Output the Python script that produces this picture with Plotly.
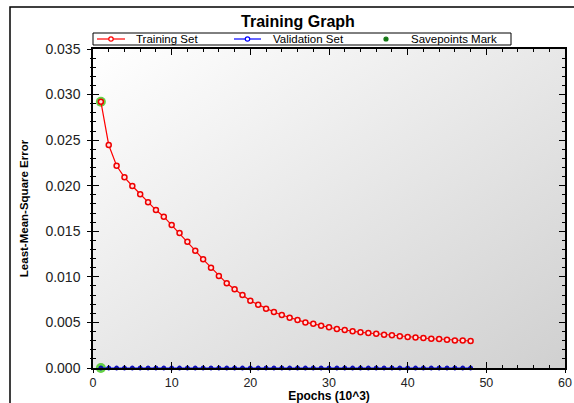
import base64
import plotly.graph_objects as go

epochs = list(range(1, 49))
training = [0.02922, 0.02447, 0.02219, 0.02092, 0.01997, 0.01906, 0.01818, 0.01733,
            0.01660, 0.01569, 0.01481, 0.01386, 0.01287, 0.01192, 0.01101, 0.01009,
            0.00929, 0.00863, 0.00801, 0.00738, 0.00695, 0.00651, 0.00614, 0.00581,
            0.00552, 0.00527, 0.00500, 0.00485, 0.00464, 0.00446, 0.00428, 0.00417,
            0.00402, 0.00391, 0.00384, 0.00376, 0.00365, 0.00358, 0.00347, 0.00340,
            0.00336, 0.00329, 0.00321, 0.00318, 0.00311, 0.00303, 0.00303, 0.00296]
validation = [0.0] * 48
save_x = [1, 1]
save_y = [0.02922, 0.0]

x_ticks = [0, 10, 20, 30, 40, 50, 60]
y_ticks = [0.000, 0.005, 0.010, 0.015, 0.020, 0.025, 0.030, 0.035]

series_names = ["Training Set", "Validation Set", "Savepoints Mark"]
series_colors = ["#ff0000", "#0000ff", "#117711"]

FONT = "Liberation Sans, Arial, sans-serif"
NARROW = "Liberation Sans Narrow, Liberation Sans, Arial, sans-serif"

W, H = 574, 403
L, R, T, B = 93, 9, 49, 35
PW, PH = W - L - R, H - T - B


def px(xp):
    return (xp - L) / PW


def py(yp):
    return (H - B - yp) / PH


svg = ('<svg xmlns="http://www.w3.org/2000/svg" width="100" height="100" preserveAspectRatio="none">'
       '<defs><linearGradient id="g" x1="0" y1="0" x2="1" y2="1">'
       '<stop offset="0" stop-color="#ffffff"/><stop offset="1" stop-color="#d0d0d0"/>'
       '</linearGradient></defs><rect width="100" height="100" fill="url(#g)"/></svg>')
bg = "data:image/svg+xml;base64," + base64.b64encode(svg.encode()).decode()

fig = go.Figure()
fig.add_trace(go.Scatter(
    x=save_x, y=save_y, mode="markers", name=series_names[2],
    marker=dict(color="#55cc33", size=10, opacity=0.9, line=dict(width=0)),
    cliponaxis=False, showlegend=False))
fig.add_trace(go.Scatter(
    x=epochs, y=training, mode="lines+markers", name=series_names[0],
    line=dict(color=series_colors[0], width=1.2),
    marker=dict(symbol="circle", size=5, color="#ffe0e0",
                line=dict(color="#ee0000", width=1.5)),
    showlegend=False))
fig.add_trace(go.Scatter(
    x=epochs, y=validation, mode="lines+markers", name=series_names[1],
    line=dict(color=series_colors[1], width=1.2),
    marker=dict(symbol="circle", size=4, color="#1a1a80",
                line=dict(color="#0000cc", width=1)),
    cliponaxis=False, showlegend=False))
fig.add_trace(go.Scatter(x=[None], y=[None], xaxis="x2", yaxis="y2", showlegend=False,
                         hoverinfo="skip"))

axis_common = dict(showline=True, linecolor="black", linewidth=1.5, mirror="ticks",
                   ticks="inside", ticklen=6, tickcolor="black", tickwidth=1,
                   showgrid=False, zeroline=False)

# manual compact legend (box, sample lines, symbols, labels)
leg_y = py(39)
shapes = [
    dict(type="rect", xref="paper", yref="paper",
         x0=-83 / PW, x1=1.2, y0=-0.5, y1=py(7),
         line=dict(color="black", width=1.5), layer="below"),
    dict(type="rect", xref="paper", yref="paper",
         x0=px(93), x1=px(511), y0=py(45), y1=py(33),
         line=dict(color="black", width=1), fillcolor="white", layer="below"),
    dict(type="line", xref="paper", yref="paper", x0=px(97), x1=px(125), y0=leg_y, y1=leg_y,
         line=dict(color=series_colors[0], width=1.2)),
    dict(type="line", xref="paper", yref="paper", x0=px(234), x1=px(261), y0=leg_y, y1=leg_y,
         line=dict(color=series_colors[1], width=1.2)),
]
for cx, fill, edge, r in [(111, "white", series_colors[0], 2.2),
                          (247.5, "white", series_colors[1], 2.2),
                          (386, series_colors[2], series_colors[2], 2.0)]:
    shapes.append(dict(type="circle", xref="paper", yref="paper",
                       xsizemode="pixel", ysizemode="pixel",
                       xanchor=px(cx), yanchor=leg_y, x0=-r, x1=r, y0=-r, y1=r,
                       fillcolor=fill, line=dict(color=edge, width=1.2)))

annotations = []
for tx, name in zip([135, 272, 410], series_names):
    annotations.append(dict(xref="paper", yref="paper", x=px(tx), y=leg_y,
                            xanchor="left", yanchor="middle", showarrow=False,
                            borderpad=0, text=name,
                            font=dict(family=FONT, size=11.5, color="black")))

fig.update_layout(
    width=W, height=H,
    margin=dict(l=L, r=R, t=T, b=B, autoexpand=False),
    paper_bgcolor="white", plot_bgcolor="rgba(0,0,0,0)",
    title=dict(text="<b>Training Graph</b>", x=298 / W, xanchor="center",
               y=1 - 21 / H, yanchor="middle",
               font=dict(family=FONT, size=16, color="black")),
    showlegend=False,
    xaxis=dict(range=[0, 60], tickvals=x_ticks, ticktext=[str(v) for v in x_ticks],
               minor=dict(dtick=2, ticks="inside", ticklen=3, tickcolor="black"),
               tickfont=dict(family=FONT, size=12.5, color="#222"), ticklabelstandoff=2,
               title=dict(text="<b>Epochs (10^3)</b>", standoff=2,
                          font=dict(family=FONT, size=12, color="black")),
               **axis_common),
    yaxis=dict(range=[0, 0.035], tickvals=y_ticks, ticktext=[f"{v:.3f}" for v in y_ticks],
               minor=dict(dtick=0.001, ticks="inside", ticklen=3, tickcolor="black"),
               tickfont=dict(family=FONT, size=14, color="#222"), ticklabelstandoff=8,
               title=dict(text="<b>Least-Mean-Square Error</b>", standoff=14,
                          font=dict(family=NARROW, size=11.5, color="black")),
               **axis_common),
    xaxis2=dict(overlaying="x", range=[0, 60], tickvals=x_ticks, showticklabels=False,
                ticks="outside", ticklen=4, tickcolor="black", showline=False,
                showgrid=False, zeroline=False, anchor="y"),
    yaxis2=dict(overlaying="y", range=[0, 0.035], tickvals=y_ticks, showticklabels=False,
                ticks="outside", ticklen=5, tickcolor="black", showline=False,
                showgrid=False, zeroline=False, anchor="x",
                minor=dict(dtick=0.001, ticks="outside", ticklen=2, tickcolor="black")),
    images=[dict(source=bg, xref="x domain", yref="y domain", x=0, y=1,
                 sizex=1, sizey=1, sizing="stretch", layer="below",
                 xanchor="left", yanchor="top")],
    shapes=shapes,
    annotations=annotations,
)

fig.write_html("out.html", config={"displayModeBar": False},
               post_script="document.body.style.margin='0';")
